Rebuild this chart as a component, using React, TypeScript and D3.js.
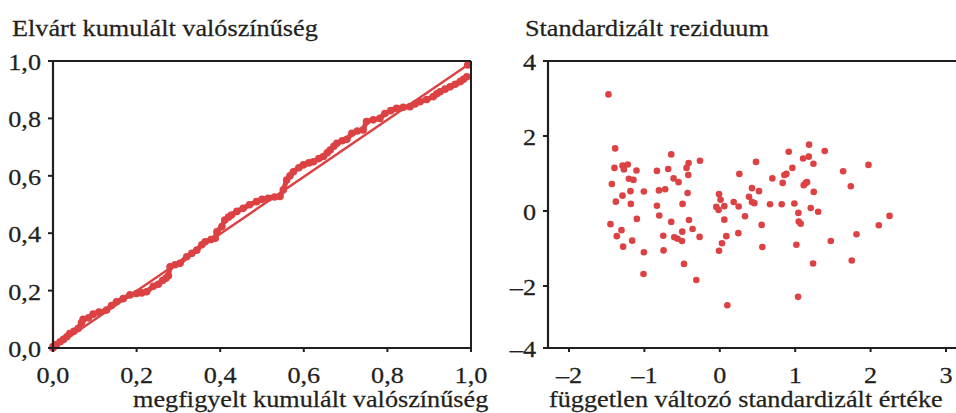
import React from "react";
import * as d3 from "d3";

// ---- Left panel: P-P plot (observed vs expected cumulative probability)
const PP_OBSERVED = [
  0.000, 0.008, 0.017, 0.025, 0.033, 0.040, 0.050, 0.060, 0.068, 0.072, 0.085, 0.096, 0.110, 0.128,
  0.140, 0.152, 0.168, 0.184, 0.200, 0.212, 0.224, 0.240, 0.252, 0.262, 0.270, 0.276, 0.280, 0.292,
  0.304, 0.320, 0.332, 0.344, 0.356, 0.364, 0.378, 0.388, 0.392, 0.404, 0.411, 0.420, 0.427, 0.440,
  0.455, 0.470, 0.487, 0.500, 0.515, 0.530, 0.543, 0.551, 0.559, 0.567, 0.575, 0.588, 0.599, 0.612,
  0.623, 0.636, 0.647, 0.656, 0.663, 0.672, 0.679, 0.692, 0.703, 0.715, 0.728, 0.742, 0.750, 0.766,
  0.782, 0.794, 0.808, 0.822, 0.838, 0.854, 0.866, 0.878, 0.894, 0.910, 0.918, 0.926, 0.938, 0.950,
  0.962, 0.974, 0.982, 0.990,
];
const PP_EXPECTED = [
  0.005, 0.012, 0.022, 0.030, 0.039, 0.050, 0.058, 0.068, 0.088, 0.100, 0.105, 0.118, 0.125, 0.132,
  0.148, 0.161, 0.172, 0.185, 0.190, 0.192, 0.196, 0.215, 0.222, 0.235, 0.243, 0.252, 0.283, 0.290,
  0.295, 0.318, 0.330, 0.341, 0.360, 0.370, 0.378, 0.382, 0.405, 0.423, 0.446, 0.456, 0.463, 0.476,
  0.487, 0.499, 0.510, 0.518, 0.522, 0.526, 0.528, 0.551, 0.585, 0.600, 0.614, 0.628, 0.638, 0.645,
  0.649, 0.660, 0.667, 0.680, 0.690, 0.703, 0.713, 0.722, 0.727, 0.748, 0.756, 0.760, 0.789, 0.795,
  0.800, 0.817, 0.827, 0.835, 0.839, 0.841, 0.850, 0.858, 0.866, 0.876, 0.886, 0.893, 0.902, 0.910,
  0.919, 0.928, 0.936, 0.945,
];
const REF_OBS = [0, 0.992];
const REF_EXP = [0, 0.986];
const LEFT_TICKS = [0, 0.2, 0.4, 0.6, 0.8, 1.0];
const LEFT_TICK_LABELS = ["0,0", "0,2", "0,4", "0,6", "0,8", "1,0"];

// ---- Right panel: standardized residuals vs standardized independent variable
const RES_X = [
  -1.477, -1.388, -1.397, -1.432, -1.379, -1.45, -1.366, -1.304, -1.282, -1.29, -1.272, -1.22,
  -1.206, -1.145, -1.185, -1.18, -1.162, -1.105, -1.1, -1.007, -1.007, -1.012, -0.834, -0.834,
  -0.807, -0.803, -0.724, -0.684, -0.644, -0.644, -0.75, -0.746, -0.613, -0.547, -0.604, -0.56,
  -0.502, -0.498, -0.494, -0.475, -0.441, -0.414, -0.418, -0.427, -0.409, -0.361, -0.312, -0.268,
  -0.263, -0.01, 0.01, -0.046, -0.016, 0.06, 0.06, 0.086, 0.029, -0.01, 0.1, 0.259, 0.184, 0.25,
  0.334, 0.246, 0.387, 0.427, 0.427, 0.458, 0.48, 0.52, 0.555, 0.564, 0.666, 0.697, 0.821, 0.834,
  0.857, 0.883, 0.914, 0.963, 0.989, 1.042, 1.047, 1.073, 1.016, 1.038, 1.105, 1.18, 1.184, 1.242,
  1.113, 1.14, 1.158, 1.246, 1.206, 1.304, 1.237, 1.392, 1.472, 1.636, 1.737, 1.813, 1.75, 1.972,
  2.109, 2.251, -1.29,
];
const RES_Y = [
  3.11, 1.67, 1.15, 0.72, 0.25, -0.35, -0.67, -0.51, -0.95, 1.21, 1.11, 1.24,
  0.86, 0.83, 0.53, 0.19, -0.79, 1.08, -0.21, 0.52, -1.1, -1.68, 1.07, 0.14,
  0.55, -0.12, 0.58, 1.12, 1.51, -0.29, -0.66, -1.05, 0.87, 0.77, -0.7, -0.74,
  -0.8, -0.55, 0.19, -1.41, 1.15, 1.28, 0.96, 0.48, -0.24, -0.48, -1.84, -0.69,
  1.34, 0.45, 0.3, 0.11, 0.03, 0.13, -0.23, -0.67, -0.86, -1.06, -2.62, 0.99, 0.24, 0.12,
  -0.14, -0.59, 0.38, 0.61, 0.24, 0.21, 1.31, 0.53, -0.37, -0.96, 0.18, 0.87, 0.18, 0.75,
  0.96, 0.99, 1.58, 1.15, 0.2, -0.05, -0.28, -0.34, -0.9, -2.35, 1.4, 1.45, 1.77, 1.26,
  0.69, 0.75, 0.77, 0.51, 0.08, -0.02, -1.4, 1.6, -0.8, 1.06, 0.66, -0.62, -1.32, 1.23,
  -0.38, -0.13, 0.41,
];
const RIGHT_X_TICKS = [-2, -1, 0, 1, 2, 3];
const RIGHT_Y_TICKS = [-4, -2, 0, 2, 4];

const RED = "#dc4143";
const INK = "#231f20";
const FONT = "'Liberation Serif', 'Times New Roman', serif";
const FS = 23;
const SX = 1.14;

const fmtSigned = (v: number) => (v < 0 ? "\u2013" + Math.abs(v) : String(v));

function T({ x, y, anchor = "start", children }: { x: number; y: number; anchor?: string; children: React.ReactNode }) {
  return (
    <text
      transform={`translate(${x},${y}) scale(${SX},1)`}
      textAnchor={anchor}
      fontFamily={FONT}
      fontSize={FS}
      fill={INK}
      stroke={INK}
      strokeWidth={0.25}
    >
      {children}
    </text>
  );
}

export default function App() {
  const W = 956;
  const H = 413;

  // left scales
  const lx = d3.scaleLinear().domain([0, 1]).range([53, 471]);
  const ly = d3.scaleLinear().domain([0, 1]).range([348, 61]);

  // right scales
  const rx = d3.scaleLinear().domain([-2, 3]).range([569, 946]);
  const ry = d3.scaleLinear().domain([-4, -2, 0, 2, 4]).range([348, 286, 211, 136, 61]);
  const rLeft = 548;
  const rRight = 956;

  const ppLine = d3
    .line<number>()
    .x((i) => lx(PP_OBSERVED[i]))
    .y((i) => ly(PP_EXPECTED[i]));
  const idx = d3.range(PP_OBSERVED.length);

  const refLine = d3
    .line<number>()
    .x((i) => lx(REF_OBS[i]))
    .y((i) => ly(REF_EXP[i]));

  return (
    <div style={{ position: "absolute", left: 0, top: 0, width: W, height: H, background: "#fff" }}>
      <svg width={W} height={H} style={{ display: "block" }}>
        <rect width={W} height={H} fill="#fff" />

        {/* ---------- LEFT PANEL ---------- */}
        <T x={12} y={36}>Elvárt kumulált valószínűség</T>

        {/* data */}
        <path d={refLine([0, 1]) || ""} fill="none" stroke={RED} strokeWidth={2.4} />
        <path d={ppLine(idx) || ""} fill="none" stroke={RED} strokeWidth={5} strokeLinejoin="round" strokeLinecap="round" />
        {idx.map((i) => (
          <circle key={i} cx={lx(PP_OBSERVED[i])} cy={ly(PP_EXPECTED[i])} r={3.8} fill={RED} />
        ))}
        {[0, 1].map((i) => (
          <circle key={"r" + i} cx={lx(REF_OBS[i])} cy={ly(REF_EXP[i])} r={3.8} fill={RED} />
        ))}

        {/* frame */}
        <line x1={lx(0)} x2={lx(1)} y1={ly(1)} y2={ly(1)} stroke={INK} strokeWidth={2} />
        <line x1={lx(1)} x2={lx(1)} y1={ly(1)} y2={ly(0)} stroke={INK} strokeWidth={2} />
        <line x1={lx(0)} x2={lx(0)} y1={ly(1) - 1} y2={ly(0) + 1} stroke={INK} strokeWidth={2.2} />
        <line x1={lx(0) - 1} x2={lx(1) + 1} y1={ly(0)} y2={ly(0)} stroke={INK} strokeWidth={2.2} />

        {/* y ticks */}
        {LEFT_TICKS.map((v, i) => (
          <g key={"ly" + i}>
            <line x1={lx(0) - 5} x2={lx(0)} y1={ly(v)} y2={ly(v)} stroke={INK} strokeWidth={2} />
            <T x={41} y={ly(v) + 9} anchor="end">{LEFT_TICK_LABELS[i]}</T>
          </g>
        ))}
        {/* x ticks */}
        {LEFT_TICKS.map((v, i) => (
          <g key={"lx" + i}>
            <line x1={lx(v)} x2={lx(v)} y1={ly(0)} y2={ly(0) + 4} stroke={INK} strokeWidth={2} />
            <T x={lx(v)} y={383} anchor="middle">{LEFT_TICK_LABELS[i]}</T>
          </g>
        ))}
        <T x={133} y={407}>megfigyelt kumulált valószínűség</T>

        {/* ---------- RIGHT PANEL ---------- */}
        <T x={525} y={36}>Standardizált reziduum</T>

        {RES_X.map((v, i) => (
          <circle key={"p" + i} cx={rx(v)} cy={ry(RES_Y[i])} r={3.3} fill={RED} />
        ))}

        <line x1={rLeft} x2={rRight} y1={ry(4)} y2={ry(4)} stroke={INK} strokeWidth={2} />
        <line x1={rLeft} x2={rLeft} y1={ry(4) - 1} y2={ry(-4) + 1} stroke={INK} strokeWidth={2.2} />
        <line x1={rLeft - 1} x2={rRight} y1={ry(-4)} y2={ry(-4)} stroke={INK} strokeWidth={2.2} />

        {RIGHT_Y_TICKS.map((v) => (
          <g key={"ry" + v}>
            <line x1={rLeft - 5} x2={rLeft} y1={ry(v)} y2={ry(v)} stroke={INK} strokeWidth={2} />
            <T x={536} y={ry(v) + 9} anchor="end">{fmtSigned(v)}</T>
          </g>
        ))}
        {RIGHT_X_TICKS.map((v) => (
          <g key={"rx" + v}>
            <line x1={rx(v)} x2={rx(v)} y1={ry(-4)} y2={ry(-4) + 4} stroke={INK} strokeWidth={2} />
            <T x={rx(v)} y={383} anchor="middle">{fmtSigned(v)}</T>
          </g>
        ))}
        <T x={549} y={407}>független változó standardizált értéke</T>
      </svg>
    </div>
  );
}
